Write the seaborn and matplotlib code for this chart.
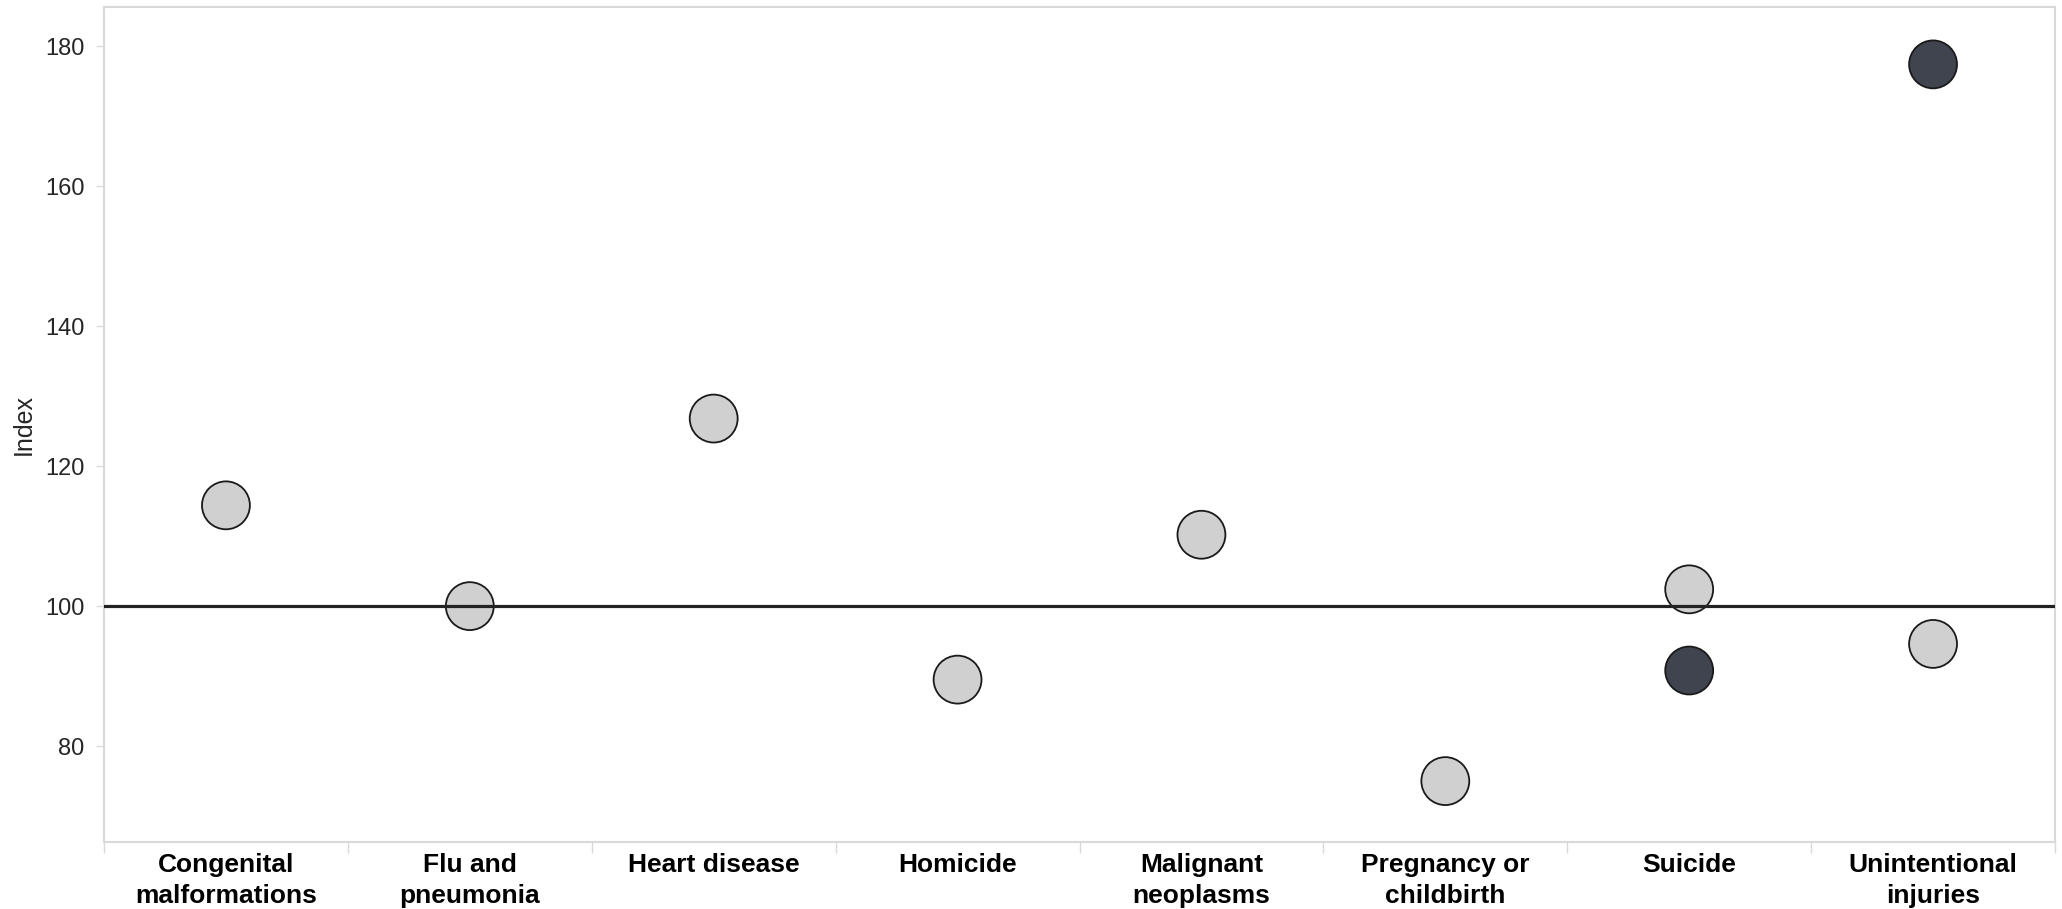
import numpy as np
import pandas as pd
import matplotlib
matplotlib.use("Agg")
import matplotlib.pyplot as plt
import seaborn as sns

categories = ["Congenital\nmalformations", "Flu and\npneumonia", "Heart disease", "Homicide",
              "Malignant\nneoplasms", "Pregnancy or\nchildbirth", "Suicide", "Unintentional\ninjuries"]
light_values = [114.4, 100.0, 126.8, 89.5, 110.2, 75.0, 102.4, 94.6]
dark_values = [np.nan, np.nan, np.nan, np.nan, np.nan, np.nan, 90.8, 177.4]
y_ticks = [80, 100, 120, 140, 160, 180]
reference_value = 100

sns.set_theme(style="white")
plt.rcParams['font.family'] = ['Liberation Sans', 'DejaVu Sans']

rows = []
for c, v in zip(categories, light_values):
    rows.append({"Category": c, "Index": v, "Group": "light"})
for c, v in zip(categories, dark_values):
    if not np.isnan(v):
        rows.append({"Category": c, "Index": v, "Group": "dark"})
df = pd.DataFrame(rows)
df["Category"] = pd.Categorical(df["Category"], categories=categories, ordered=True)
df["x"] = df["Category"].cat.codes

fig = plt.figure(figsize=(20.62, 9.09), dpi=100)
ax = fig.add_axes([104/2062, 1 - 842/909, (2055-104)/2062, (842-7)/909])

sns.scatterplot(data=df, x="x", y="Index", hue="Group",
                palette={"light": "#d0d0d0", "dark": "#40444f"},
                s=1190, edgecolor="#1a1a1a", linewidth=1.3, legend=False, ax=ax, zorder=2)
ax.axhline(reference_value, color="#222222", lw=2.3, zorder=5)

ax.set_xlim(-0.5, len(categories) - 0.5)
ax.set_ylim(66.3, 185.6)
ax.set_xticks(range(len(categories)))
ax.set_xticklabels(categories, fontsize=19, fontweight="bold", linespacing=1.35)
ax.set_xticks(np.arange(-0.5, len(categories), 1.0), minor=True)
ax.tick_params(axis="x", which="major", length=0, pad=8, colors="black")
ax.tick_params(axis="x", which="minor", length=8, width=1, color="#d9d9d9", direction="out", bottom=True)
ax.set_yticks(y_ticks)
ax.tick_params(axis="y", which="major", length=6, width=1, color="#d9d9d9", left=True, labelsize=17, pad=8)
ax.set_xlabel("")
ax.set_ylabel("Index", fontsize=18)
ax.yaxis.set_label_coords(-(104 - 36) / (2055 - 104), 0.5)
for s in ax.spines.values():
    s.set_color("#d9d9d9")
    s.set_linewidth(1.5)
ax.grid(False)

fig.savefig("out.png", dpi=100)
